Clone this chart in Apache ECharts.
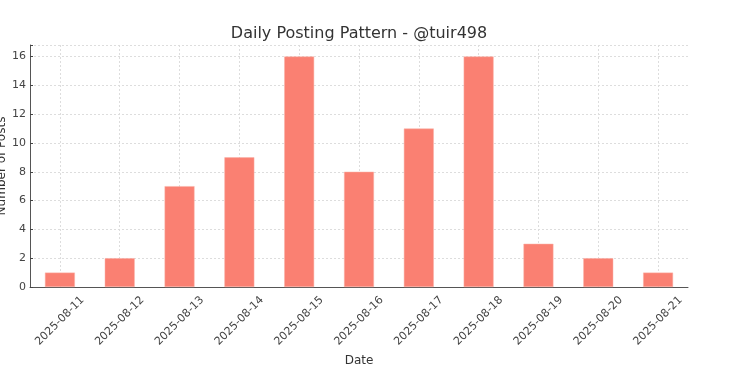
<!DOCTYPE html>
<html><head><meta charset="utf-8">
<script src="https://cdn.jsdelivr.net/npm/echarts@6/dist/echarts.min.js"></script>
<style>html,body{margin:0;padding:0;background:#fff}#c{width:729px;height:367px}</style>
</head><body><div id="c"></div>
<script>
const categories = ["2025-08-11","2025-08-12","2025-08-13","2025-08-14","2025-08-15","2025-08-16","2025-08-17","2025-08-18","2025-08-19","2025-08-20","2025-08-21"];
const posts = [1,2,7,9,16,8,11,16,3,2,1];
const yTicks = [0,2,4,6,8,10,12,14,16];

const font = "DejaVu Sans";
const gridStyle = {color:'#ddd', type:[2,2], width:1};
const chart = echarts.init(document.getElementById('c'), null, {renderer:'canvas'});
chart.setOption({
  animation:false,
  backgroundColor:'#fff',
  title:{text:'Daily Posting Pattern - @tuir498', left:354, textAlign:'center', top:21,
    textStyle:{fontFamily:font, fontSize:16, fontWeight:'normal', color:'#333'}},
  grid:{left:30, right:41, top:45, bottom:80, containLabel:false, outerBoundsMode:'none'},
  xAxis:{type:'category', data:categories, boundaryGap:true,
    name:'Date', nameLocation:'middle', nameGap:62,
    nameTextStyle:{fontFamily:font, fontSize:12, color:'#333'},
    axisLine:{lineStyle:{color:'#555', width:1}},
    axisTick:{alignWithLabel:true, inside:true, length:3, lineStyle:{color:'#444'}},
    axisLabel:{rotate:45, align:'center', verticalAlign:'middle', margin:34, interval:0,
      fontFamily:font, fontSize:11, color:'#444'},
    splitLine:{show:false}
  },
  yAxis:{type:'value', min:0, max:16.8, interval:2,
    name:'Number of Posts', nameLocation:'middle', nameGap:22, nameRotate:90, nameMoveOverlap:false,
    nameTextStyle:{fontFamily:font, fontSize:12, color:'#333'},
    axisLine:{show:true, lineStyle:{color:'#555', width:1}},
    axisTick:{show:true, inside:true, length:3, lineStyle:{color:'#444'}},
    axisLabel:{fontFamily:font, fontSize:11, color:'#444', margin:4,
      formatter:v => yTicks.includes(v) ? String(v) : ''},
    splitLine:{show:true, lineStyle:gridStyle}
  },
  series:[{type:'bar', data:posts, barWidth:'50%', z:2,
    itemStyle:{color:'#FA8072', borderColor:'#fbb0a6', borderWidth:0.5},
    markLine:{silent:true, symbol:['none','none'], label:{show:false}, z:1,
      lineStyle:gridStyle, emphasis:{disabled:true},
      data:categories.map(c => [{xAxis:c, yAxis:0}, {xAxis:c, yAxis:16.8}])}
  }]
});
</script></body></html>
